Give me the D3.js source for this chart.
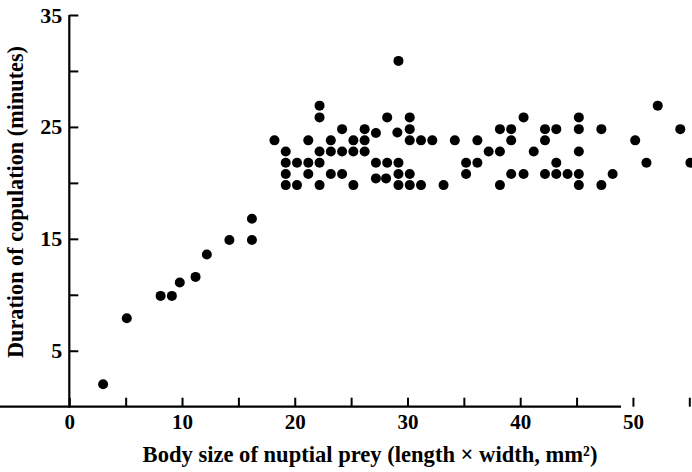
<!DOCTYPE html>
<html>
<head>
<meta charset="utf-8">
<script src="https://cdn.jsdelivr.net/npm/d3@7"></script>
<style>
  html, body { margin: 0; padding: 0; background: #fff; }
  svg { display: block; }
  text { font-family: "Liberation Serif", "DejaVu Serif", serif; font-weight: bold; fill: #000; }
</style>
</head>
<body>
<svg id="chart" width="692" height="472"></svg>
<script>
// Body size of nuptial prey (length x width, mm^2)
const bodySize = [
  3.0, 5.1, 8.1, 9.1, 9.8, 11.2, 12.2, 14.2, 16.2, 16.2,
  18.2, 19.2, 19.2, 19.2, 19.2, 20.2, 20.2, 21.2, 21.2, 21.2,
  22.2, 22.2, 22.2, 22.2, 22.2, 23.2, 23.2, 23.2, 24.2, 24.2, 24.2,
  25.2, 25.2, 25.2, 26.2, 26.2, 26.2, 27.2, 27.2, 27.2, 28.2, 28.2, 28.1,
  29.2, 29.1, 29.2, 29.2, 29.2, 30.2, 30.2, 30.2, 30.2, 30.2,
  31.2, 31.2, 32.2, 33.2, 34.2, 35.2, 35.2, 36.2, 36.2, 37.2,
  38.2, 38.2, 38.2, 39.2, 39.2, 39.2, 40.3, 40.3, 41.2,
  42.2, 42.2, 42.2, 43.2, 43.2, 43.2, 44.2,
  45.2, 45.2, 45.2, 45.2, 45.2, 47.2, 47.2, 48.2, 50.2, 51.2, 52.2, 54.2, 55.1
];
// Duration of copulation (minutes)
const duration = [
  2.0, 7.9, 9.9, 9.9, 11.1, 11.6, 13.6, 14.9, 14.9, 16.8,
  23.8, 22.8, 21.8, 20.8, 19.8, 21.8, 19.8, 23.8, 21.8, 20.8,
  26.9, 25.85, 22.8, 21.8, 19.8, 23.8, 22.8, 20.8, 24.8, 22.8, 20.8,
  23.8, 22.8, 19.8, 24.8, 23.8, 22.8, 24.45, 21.8, 20.4, 25.85, 21.8, 20.4,
  30.9, 24.5, 21.8, 20.8, 19.8, 25.85, 24.8, 23.8, 20.8, 19.8,
  23.8, 19.8, 23.8, 19.8, 23.8, 21.8, 20.8, 23.8, 21.8, 22.8,
  24.8, 22.8, 19.8, 24.8, 23.8, 20.8, 25.85, 20.8, 22.8,
  24.8, 23.8, 20.8, 24.8, 21.8, 20.8, 20.8,
  25.85, 24.8, 22.8, 20.8, 19.8, 24.8, 19.8, 20.8, 23.8, 21.8, 26.9, 24.8, 21.8
];
const xTicks = [0, 5, 10, 15, 20, 25, 30, 35, 40, 45, 50, 55];
const xTickLabels = [0, 10, 20, 30, 40, 50];
const yTicks = [5, 10, 15, 20, 25, 30, 35];
const yTickLabels = [5, 15, 25, 35];
const xTitle = "Body size of nuptial prey (length \u00d7 width, mm\u00b2)";
const yTitle = "Duration of copulation (minutes)";

const svg = d3.select("#chart");
const x = d3.scaleLinear().domain([0, 55]).range([69.3, 689.3]);
const y = d3.scaleLinear().domain([0, 35]).range([406.7, 15]);

const xAxis = d3.axisBottom(x)
  .tickValues(xTicks)
  .tickSizeInner(-9).tickSizeOuter(0).tickPadding(7)
  .tickFormat(d => xTickLabels.includes(d) ? d : "");
const gx = svg.append("g").attr("transform", `translate(0,${y(0)})`).call(xAxis);

const yAxis = d3.axisLeft(y)
  .tickValues(yTicks)
  .tickSizeInner(-9).tickSizeOuter(0).tickPadding(7)
  .tickFormat(d => yTickLabels.includes(d) ? d : "");
const gy = svg.append("g").attr("transform", `translate(${x(0)},0)`).call(yAxis);

gy.select(".domain").attr("d", `M0,${y(35)}V${y(0) + 1}`);
gx.select(".domain").attr("d", `M-1,0H${x(55) - x(0) + 1}`);

[gx, gy].forEach(g => {
  g.select(".domain").attr("stroke", "#000").attr("stroke-width", 2.2);
  g.selectAll(".tick line").attr("stroke", "#000").attr("stroke-width", 2);
  g.selectAll(".tick text")
    .attr("font-family", "Liberation Serif, serif")
    .attr("font-weight", "bold")
    .attr("fill", "#000");
});
gx.selectAll(".tick text").attr("font-size", 21);
gy.selectAll(".tick text").attr("font-size", 22);

// points
svg.append("g").selectAll("circle")
  .data(d3.range(bodySize.length))
  .join("circle")
  .attr("cx", i => x(bodySize[i]))
  .attr("cy", i => y(duration[i]))
  .attr("r", 5)
  .attr("fill", "#000");

// axis titles
const xt = svg.append("text")
  .attr("x", 370).attr("y", 462)
  .attr("text-anchor", "middle")
  .attr("font-size", 18)
  .text(xTitle);
const xl = xt.node().getComputedTextLength();
xt.attr("font-size", 18 * 455 / xl);

const yt = svg.append("text")
  .attr("transform", "translate(23,202) rotate(-90)")
  .attr("text-anchor", "middle")
  .attr("font-size", 18)
  .text(yTitle);
const yl = yt.node().getComputedTextLength();
yt.attr("font-size", 18 * 312 / yl);
</script>
</body>
</html>
